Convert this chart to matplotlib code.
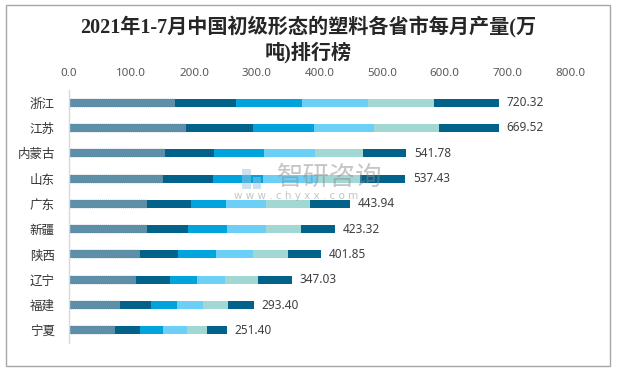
import matplotlib
matplotlib.use("Agg")
import matplotlib.pyplot as plt
from matplotlib.patches import Rectangle
import numpy as np

plt.rcParams['font.family'] = ['Noto Sans CJK SC', 'DejaVu Sans']

provinces = ["浙江", "江苏", "内蒙古", "山东", "广东", "新疆", "陕西", "辽宁", "福建", "宁夏"]
totals = ["720.32", "669.52", "541.78", "537.43", "443.94", "423.32", "401.85", "347.03", "293.40", "251.40"]

# monthly segments (1-2月, 3月, 4月, 5月, 6月, 7月)
m12 = [169.5, 187.0, 153.5, 150.2, 125.0, 125.0, 113.7, 107.2, 81.8, 73.8]
m3 = [97.3, 106.8, 78.0, 79.8, 70.0, 65.2, 60.6, 54.2, 49.4, 39.9]
m4 = [105.2, 97.3, 79.8, 79.8, 55.8, 62.2, 60.6, 43.1, 41.5, 36.7]
m5 = [105.3, 95.7, 81.5, 87.7, 63.8, 62.2, 59.0, 44.6, 41.5, 38.3]
m6 = [105.3, 103.7, 76.5, 67.0, 70.2, 55.8, 55.8, 52.6, 39.9, 31.9]
m7 = [104.1, 96.2, 69.7, 72.8, 63.8, 54.3, 52.6, 54.2, 41.5, 31.9]

xticks = [0, 100, 200, 300, 400, 500, 600, 700, 800]

series = [m12, m3, m4, m5, m6, m7]
colors = ["#5d90a8", "#03628a", "#00a3dc", "#6bcff6", "#a2d8d4", "#03628a"]

fig = plt.figure(figsize=(6.18, 3.71), dpi=100)
W, H = 618, 371
ax = fig.add_axes([68.8 / W, (H - 343) / H, (570 - 68.8) / W, (343 - 90) / H])

y = np.arange(len(provinces))
left = np.zeros(len(provinces))
for i, (vals, c) in enumerate(zip(series, colors)):
    vals = np.array(vals)
    if i == 0:
        ax.barh(y, vals, left=left, height=0.32, color=c, edgecolor="#567f94",
                linewidth=0.35, linestyle=(0, (2, 2)))
    else:
        ax.barh(y, vals, left=left, height=0.32, color=c, linewidth=0)
    left = left + vals

for yi, tot, lab in zip(y, left, totals):
    ax.text(tot + 12, yi, lab, va="center", ha="left", fontsize=8.5,
            color="#404040", family=["Noto Sans", "DejaVu Sans"])

ax.set_xlim(0, 800)
ax.set_ylim(len(provinces) - 0.5, -0.5)
ax.set_yticks(y)
ax.set_yticklabels(provinces, fontsize=9, color="#333333")
ax.xaxis.tick_top()
ax.set_xticks(xticks)
ax.set_xticklabels([f"{v:.1f}" for v in xticks], fontsize=8.3, color="#595959",
                   family=["Noto Sans", "DejaVu Sans"])
ax.tick_params(axis="x", length=0, pad=8)
ax.tick_params(axis="y", length=0, pad=10)
for s in ["top", "right", "bottom"]:
    ax.spines[s].set_visible(False)
ax.spines["left"].set_color("#d9d9d9")
ax.spines["left"].set_linewidth(1)

# title
fig.text(308 / W, 1 - 27 / H, "2021年1-7月中国初级形态的塑料各省市每月产量(万",
         ha="center", va="center", fontsize=14.5, fontweight="bold", color="#262626",
         family=["Liberation Serif", "Noto Sans CJK SC"])
fig.text(308 / W, 1 - 53 / H, "吨)排行榜",
         ha="center", va="center", fontsize=14.5, fontweight="bold", color="#262626",
         family=["Liberation Serif", "Noto Sans CJK SC"])

# watermark
fig.text(330 / W, 1 - 177 / H, "智研咨询", ha="center", va="center", fontsize=19,
         color="#8c8c8c", alpha=0.5)
fig.text(296 / W, 1 - 196 / H, "w w w . c h y x x . c o m", ha="center", va="center",
         fontsize=7.5, color="#8c8c8c", alpha=0.5, family=["DejaVu Sans"])
fig.patches.append(Rectangle((242 / W, 1 - 189 / H), 9 / W, 20 / H, transform=fig.transFigure,
                             facecolor="#9cc3e0", alpha=0.5, edgecolor="none"))
fig.patches.append(Rectangle((253 / W, 1 - 189 / H), 8 / W, 12 / H, transform=fig.transFigure,
                             facecolor="#9cc3e0", alpha=0.5, edgecolor="none"))

# outer border
fig.patches.append(Rectangle((6 / W, 1 - 366 / H), 604 / W, 361 / H, transform=fig.transFigure,
                             fill=False, edgecolor="#a6a6a6", linewidth=1))

fig.savefig("out.png", dpi=100)
